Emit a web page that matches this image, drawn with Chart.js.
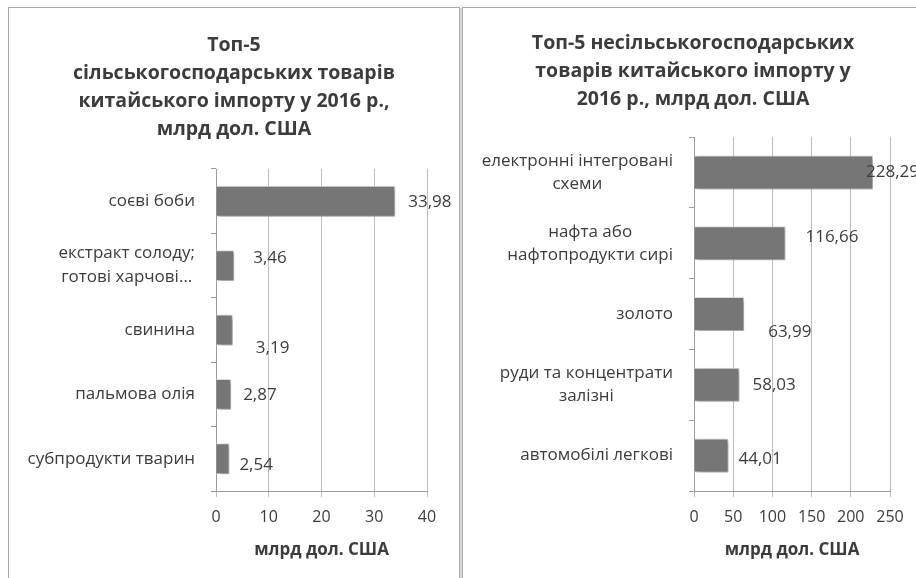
<!doctype html>
<html>

<head>
    <meta charset="utf-8">
    <title>Топ-5 товарів китайського імпорту у 2016 р.</title>
    <script src="https://cdn.jsdelivr.net/npm/chart.js@4.4.1/dist/chart.umd.min.js"></script>
    <style>
    body {
        margin: 0;
        background: #fff;
    }
    #wrap {
        position: relative;
        width: 916px;
        height: 578px;
        overflow: hidden;
    }
    .panel {
        position: absolute;
        top: 7px;
        height: 620px;
        border: 1px solid #a9a9a9;
        box-sizing: border-box;
    }
    #panelLeft { left: 8px; width: 452px; }
    #panelRight { left: 462px; width: 480px; }
    #gap { position: absolute; left: 460px; top: 8px; width: 2px; height: 620px; background: #d9d9d9; }
    canvas { position: absolute; }
    #agriChart { left: 10px; top: 8px; }
    #otherChart { left: 470px; top: 8px; }
    </style>
</head>

<body>
<div id="wrap">
    <div class="panel" id="panelLeft"></div>
    <div id="gap"></div>
    <div class="panel" id="panelRight"></div>
    <canvas id="agriChart" width="448" height="570"></canvas>
    <canvas id="otherChart" width="446" height="570"></canvas>
</div>

<script>

// data
var agriLabels = ['соєві боби', ['екстракт солоду;', 'готові харчові…'], 'свинина', 'пальмова олія', 'субпродукти тварин'];
var agriValues = [33.98, 3.46, 3.19, 2.87, 2.54];
var agriTicks = [0, 10, 20, 30, 40];

var otherLabels = [['електронні інтегровані', 'схеми'], ['нафта або', 'нафтопродукти сирі'], 'золото', ['руди та концентрати', 'залізні'], 'автомобілі легкові'];
var otherValues = [228.29, 116.66, 63.99, 58.03, 44.01];
var otherTicks = [0, 50, 100, 150, 200, 250];

var FONT = '"Open Sans", "Noto Sans", sans-serif';
var TEXT = '#3c3c3c';
var AXIS = '#9c9c9c';

// soft shadow under the bars, like the office chart
var barShadow = {
    id: 'barShadow',
    beforeDatasetsDraw: function(chart) {
        var ctx = chart.ctx;
        ctx.save();
        ctx.shadowColor = 'rgba(0,0,0,0.35)';
        ctx.shadowBlur = 4;
        ctx.shadowOffsetX = 2;
        ctx.shadowOffsetY = 2;
    },
    afterDatasetsDraw: function(chart) {
        chart.ctx.restore();
    }
};

// category names: block right aligned, lines centred on each other
var categoryLabels = {
    id: 'categoryLabels',
    afterDraw: function(chart, args, opts) {
        var ctx = chart.ctx;
        var scale = chart.scales.y;
        var right = chart.chartArea.left - opts.gap;
        ctx.save();
        ctx.font = opts.font;
        ctx.fillStyle = TEXT;
        ctx.textAlign = 'center';
        ctx.textBaseline = 'middle';
        chart.data.labels.forEach(function(label, i) {
            var lines = Array.isArray(label) ? label : [label];
            var w = Math.max.apply(null, lines.map(function(l) { return ctx.measureText(l).width; }));
            var y0 = scale.getPixelForValue(i) - (lines.length - 1) * opts.lineHeight / 2;
            lines.forEach(function(line, j) {
                ctx.fillText(line, right - w / 2, y0 + j * opts.lineHeight);
            });
        });
        ctx.restore();
    }
};

// value labels next to the bars (hand placed in the original)
var valueLabels = {
    id: 'valueLabels',
    afterDraw: function(chart, args, opts) {
        var ctx = chart.ctx;
        var meta = chart.getDatasetMeta(0);
        var values = chart.data.datasets[0].data;
        ctx.save();
        ctx.font = opts.font;
        ctx.fillStyle = TEXT;
        ctx.textAlign = 'left';
        ctx.textBaseline = 'middle';
        meta.data.forEach(function(bar, i) {
            var s = opts.shift[i];
            ctx.fillText(values[i].toFixed(2).replace('.', ','), bar.x + s[0], bar.y + s[1]);
        });
        ctx.restore();
    }
};

function makeChart(id, labels, values, ticks, cfg) {
    return new Chart(document.getElementById(id), {
        type: 'bar',
        data: {
            labels: labels,
            datasets: [{
                data: values,
                backgroundColor: '#767676',
                borderColor: '#e4e4e4',
                borderWidth: 1,
                barPercentage: 0.48,
                categoryPercentage: 1
            }]
        },
        options: {
            indexAxis: 'y',
            responsive: false,
            animation: false,
            devicePixelRatio: 1,
            layout: {
                padding: { top: 0, bottom: 0, left: cfg.side, right: cfg.side }
            },
            plugins: {
                legend: { display: false },
                tooltip: { enabled: false },
                title: {
                    display: true,
                    text: cfg.title,
                    color: TEXT,
                    font: { family: FONT, size: 19.5, weight: 'bold', lineHeight: '28px' },
                    padding: { top: cfg.titleTop, bottom: cfg.titleBottom }
                },
                categoryLabels: { font: '17px ' + FONT, gap: 21, lineHeight: cfg.labelLine },
                valueLabels: { font: '17px ' + FONT, shift: cfg.shift }
            },
            scales: {
                x: {
                    min: ticks[0],
                    max: ticks[ticks.length - 1],
                    ticks: {
                        stepSize: ticks[1] - ticks[0],
                        color: TEXT,
                        font: { family: FONT, size: 16 },
                        padding: 11
                    },
                    grid: { color: '#bcbcbc', tickLength: 6 },
                    border: { color: AXIS },
                    title: {
                        display: true,
                        text: 'млрд дол. США',
                        color: TEXT,
                        font: { family: FONT, size: 17, weight: 'bold' },
                        padding: { top: 0, bottom: 18 }
                    },
                    afterFit: function(s) { s.height = 87; }
                },
                y: {
                    ticks: { display: false },
                    grid: { drawOnChartArea: false, tickLength: 5, color: AXIS },
                    border: { color: AXIS },
                    afterFit: function(s) { s.width = cfg.axisWidth; }
                }
            }
        },
        plugins: [barShadow, categoryLabels, valueLabels]
    });
}

makeChart('agriChart', agriLabels, agriValues, agriTicks, {
    title: ['Топ-5', 'сільськогосподарських товарів', 'китайського імпорту у 2016 р.,', 'млрд дол. США'],
    titleTop: 23,
    titleBottom: 26,
    side: 31,
    axisWidth: 175,
    labelLine: 24,
    shift: [[13, 1], [19, -7], [23, 18], [12, 1], [10, 6]]
});

makeChart('otherChart', otherLabels, otherValues, otherTicks, {
    title: ['Топ-5 несільськогосподарських', 'товарів китайського імпорту у', '2016 р., млрд дол. США'],
    titleTop: 21,
    titleBottom: 24,
    side: 26,
    axisWidth: 198,
    labelLine: 23,
    shift: [[-7, 0], [20, -6], [24, 18], [13, 0], [10, 4]]
});
</script>

</body>

</html>
